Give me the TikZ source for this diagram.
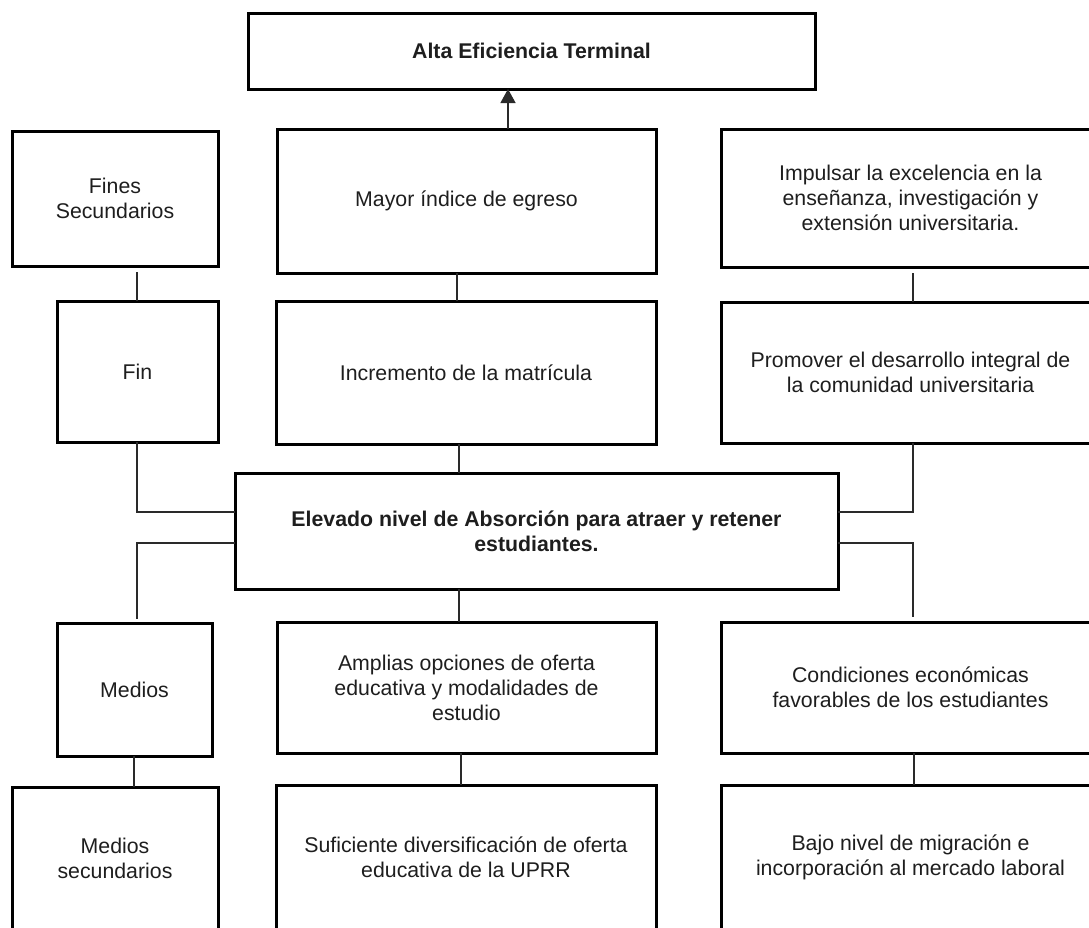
\documentclass[tikz,border=0pt]{standalone}
\usepackage{fontspec}
\setmainfont{Liberation Sans}
\usetikzlibrary{arrows.meta,calc}
\definecolor{ink}{HTML}{1E1E1E}
\definecolor{wire}{HTML}{2A2A2A}
\begin{document}
\begin{tikzpicture}[x=1pt,y=-1pt,
  box/.style={draw=black, line width=3pt, inner sep=0pt, outer sep=0pt,
              align=center, text=ink, font=\fontsize{21.3}{25}\selectfont},
  wire/.style={draw=wire, line width=1.3pt}]
\useasboundingbox (0,0) rectangle (1089,927);
\clip (0,0) rectangle (1089,927);
\fill[white] (0,0) rectangle (1089,927);

% column guides for the connectors
\coordinate (ax)   at (508,0);
\coordinate (lx)   at (137,0);
\coordinate (medx) at (134,0);
\coordinate (mx1)  at (457,0);
\coordinate (mx2)  at (459,0);
\coordinate (mx3)  at (461,0);
\coordinate (rx)   at (913,0);
\coordinate (rx2)  at (914,0);

% goal
\node[box, minimum width=567pt, minimum height=76pt] (top) at (531.5,51)
  {\bfseries Alta Eficiencia Terminal};

% ends
\node[box, minimum width=206pt, minimum height=135pt] (fines) at (115,198.5)
  {Fines\\Secundarios};
\node[box, minimum width=379pt, minimum height=144pt] (mayor) at (466.5,201)
  {Mayor índice de egreso};
\node[box, minimum width=379pt, minimum height=138pt] (impulsar) at (910.5,198)
  {Impulsar la excelencia en la\\enseñanza, investigación y\\extensión universitaria.};

\node[box, minimum width=161pt, minimum height=141pt] (fin) at (137.5,371.5)
  {Fin};
\node[box, minimum width=380pt, minimum height=143pt] (incremento) at (466,372.5)
  {Incremento de la matrícula};
\node[box, minimum width=379pt, minimum height=141pt] (promover) at (910.5,372.5)
  {Promover el desarrollo integral de\\la comunidad universitaria};

% central objective
\node[box, minimum width=603pt, minimum height=116pt] (elevado) at (536.5,531)
  {\bfseries Elevado nivel de Absorción para atraer y retener\\\bfseries estudiantes.};

% means
\node[box, minimum width=155pt, minimum height=133pt] (medios) at (134.5,689.5)
  {Medios};
\node[box, minimum width=379pt, minimum height=131pt] (amplias) at (466.5,687.5)
  {Amplias opciones de oferta\\educativa y modalidades de\\estudio};
\node[box, minimum width=379pt, minimum height=131pt] (condiciones) at (910.5,687.5)
  {Condiciones económicas\\favorables de los estudiantes};

\node[box, minimum width=206pt, minimum height=142pt] (medsec) at (115,858)
  {Medios\\secundarios};
\node[box, minimum width=380pt, minimum height=144pt] (suficiente) at (466,857)
  {Suficiente diversificación de oferta\\educativa de la UPRR};
\node[box, minimum width=379pt, minimum height=144pt] (bajo) at (910.5,857)
  {Bajo nivel de migración e\\incorporación al mercado laboral};

% connectors
\draw[wire, -{Triangle[length=14pt,width=15pt]}] (mayor.north -| ax) -- (top.south -| ax);
\draw[wire] ($(fines.south -| lx)+(0,6)$) -- (fin.north -| lx);
\draw[wire] (mayor.south -| mx1) -- (incremento.north -| mx1);
\draw[wire] ($(impulsar.south -| rx)+(0,6)$) -- (promover.north -| rx);

\draw[wire] (fin.south -| lx) |- ($(elevado.west)+(0,-19)$);
\draw[wire] (promover.south -| rx) |- ($(elevado.east)+(0,-19)$);
\draw[wire] (incremento.south -| mx2) -- (elevado.north -| mx2);

\draw[wire] ($(elevado.west)+(0,12)$) -| ($(medios.north -| lx)+(0,-4)$);
\draw[wire] ($(elevado.east)+(0,12)$) -| ($(condiciones.north -| rx)+(0,-5)$);
\draw[wire] (elevado.south -| mx2) -- (amplias.north -| mx2);

\draw[wire] (medios.south -| medx) -- (medsec.north -| medx);
\draw[wire] (amplias.south -| mx3) -- (suficiente.north -| mx3);
\draw[wire] (condiciones.south -| rx2) -- (bajo.north -| rx2);
\end{tikzpicture}
\end{document}
